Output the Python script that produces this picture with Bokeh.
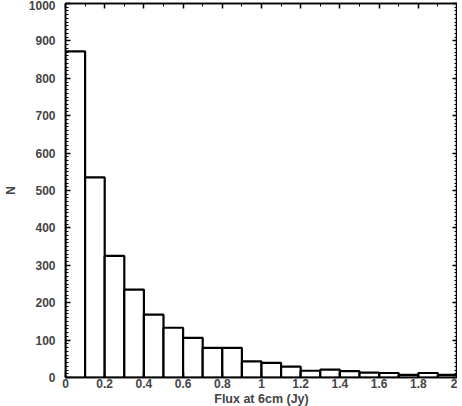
from bokeh.plotting import figure
from bokeh.models import SingleIntervalTicker, LinearAxis, CustomJSTickFormatter, Range1d
from bokeh.embed import file_html
from bokeh.resources import INLINE

bin_left = [0.0, 0.1, 0.2, 0.3, 0.4, 0.5, 0.6, 0.7, 0.8, 0.9,
            1.0, 1.1, 1.2, 1.3, 1.4, 1.5, 1.6, 1.7, 1.8, 1.9]
bin_right = [0.1, 0.2, 0.3, 0.4, 0.5, 0.6, 0.7, 0.8, 0.9, 1.0,
             1.1, 1.2, 1.3, 1.4, 1.5, 1.6, 1.7, 1.8, 1.9, 2.0]
counts = [872, 535, 325, 235, 168, 133, 106, 79, 79, 43,
          39, 29, 18, 21, 17, 13, 12, 7, 12, 7]

FONT = "Liberation Sans"

p = figure(frame_width=392, frame_height=374, output_backend="svg", toolbar_location=None,
           x_range=Range1d(0, 2), y_range=Range1d(0, 1000),
           x_axis_type=None, y_axis_type=None,
           min_border_left=59, min_border_right=0, min_border_top=3, min_border_bottom=0)
p.grid.visible = False
p.outline_line_color = "black"
p.outline_line_width = 1.5
p.background_fill_color = "white"
p.border_fill_color = "white"

p.quad(left=bin_left, right=bin_right, top=counts, bottom=0,
       fill_color="white", line_color="black", line_width=2.2)

xfmt = CustomJSTickFormatter(code="return tick.toFixed(1).replace(/\\.0$/, '');")
blank = CustomJSTickFormatter(code="return '';")

def style(ax, labels=True):
    ax.axis_line_color = "black"
    ax.axis_line_width = 1.5
    ax.major_tick_in = 5
    ax.major_tick_out = 0
    ax.minor_tick_in = 3
    ax.minor_tick_out = 0
    ax.major_tick_line_width = 1.5
    ax.minor_tick_line_width = 1
    ax.major_label_text_font = FONT
    ax.major_label_text_font_style = "bold"
    ax.major_label_text_font_size = "12px"
    ax.axis_label_text_font = FONT
    ax.axis_label_text_font_style = "bold"
    ax.axis_label_text_font_size = "12.5px"
    if not labels:
        ax.major_label_standoff = 0
        ax.major_label_text_font_size = "0px"

bottom = LinearAxis(ticker=SingleIntervalTicker(interval=0.2, num_minor_ticks=2),
                    formatter=xfmt, axis_label="Flux at 6cm (Jy)")
style(bottom)
bottom.major_label_standoff = 1
bottom.axis_label_standoff = 1
p.add_layout(bottom, "below")

top = LinearAxis(ticker=SingleIntervalTicker(interval=0.2, num_minor_ticks=2), formatter=blank)
style(top, False)
p.add_layout(top, "above")

left = LinearAxis(ticker=SingleIntervalTicker(interval=100, num_minor_ticks=10), axis_label="N")
style(left)
left.axis_label_text_font_size = "12px"
left.major_label_standoff = 10
left.axis_label_standoff = 8
p.add_layout(left, "left")

right = LinearAxis(ticker=SingleIntervalTicker(interval=100, num_minor_ticks=10), formatter=blank)
style(right, False)
p.add_layout(right, "right")

open("out.html", "w").write(file_html(p, INLINE))
